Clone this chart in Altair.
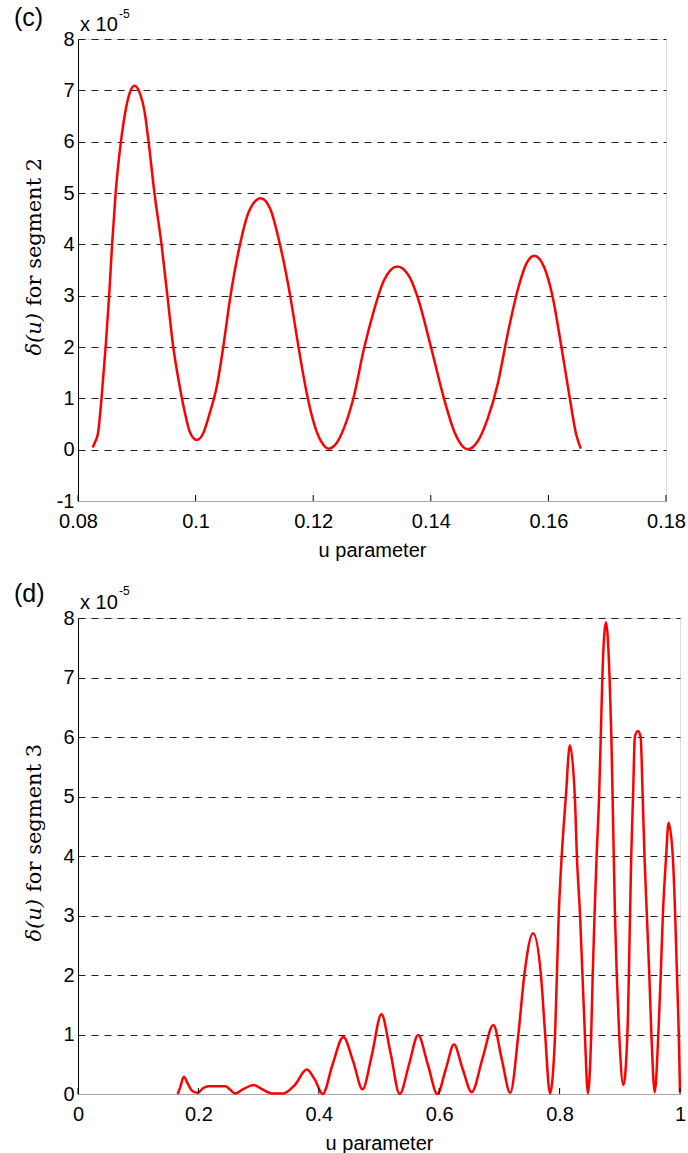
import altair as alt
import pandas as pd

# ---------------- data (values in units of 1e-5) ----------------
u_seg2 = [0.0825, 0.0829, 0.0834, 0.0840, 0.0847, 0.0853, 0.0858, 0.0864, 0.0873, 0.0880,
          0.0888, 0.0896, 0.0905, 0.0913, 0.0920, 0.0930, 0.0942, 0.0952, 0.0962, 0.0973,
          0.0982, 0.0990, 0.1002, 0.1013, 0.1024, 0.1036, 0.1047, 0.1059, 0.1075, 0.1090,
          0.1111, 0.1127, 0.1144, 0.1161, 0.1175, 0.1189, 0.1203, 0.1214, 0.1226, 0.1241,
          0.1252, 0.1269, 0.1286, 0.1303, 0.1320, 0.1343, 0.1363, 0.1377, 0.1400, 0.1423,
          0.1440, 0.1463, 0.1479, 0.1496, 0.1514, 0.1531, 0.1548, 0.1562, 0.1576, 0.1593,
          0.1607, 0.1622, 0.1636, 0.1647, 0.1655]
d_seg2 = [0.04, 0.15, 0.32, 1.00, 2.00, 3.00, 4.00, 5.00, 6.00, 6.55,
          6.95, 7.09, 6.95, 6.60, 6.00, 5.00, 4.00, 3.00, 2.00, 1.23,
          0.71, 0.35, 0.19, 0.32, 0.71, 1.23, 2.00, 2.97, 3.97, 4.62,
          4.90, 4.69, 3.97, 2.99, 2.00, 1.10, 0.45, 0.15, 0.02, 0.15,
          0.41, 1.03, 1.95, 2.70, 3.29, 3.57, 3.38, 2.99, 2.01, 0.97,
          0.35, 0.01, 0.15, 0.58, 1.29, 2.27, 3.12, 3.61, 3.78, 3.55,
          2.99, 2.01, 1.03, 0.31, 0.02]

u_seg3 = [0.1656, 0.1700, 0.1758, 0.1820, 0.1900, 0.1990, 0.2080, 0.2170, 0.2450, 0.2530,
          0.2610, 0.2760, 0.2917, 0.3060, 0.3220, 0.3410, 0.3600, 0.3800, 0.3930, 0.4065,
          0.4230, 0.4407, 0.4570, 0.4727, 0.4880, 0.5040, 0.5190, 0.5344, 0.5500, 0.5650,
          0.5810, 0.5970, 0.6110, 0.6245, 0.6390, 0.6540, 0.6720, 0.6900, 0.7040, 0.7180,
          0.7315, 0.7414, 0.7560, 0.7690, 0.7760, 0.7840, 0.7925, 0.7985, 0.8035, 0.8104,
          0.8170, 0.8253, 0.8287, 0.8340, 0.8380, 0.8420, 0.8470, 0.8525, 0.8550, 0.8580,
          0.8615, 0.8656, 0.8684, 0.8710, 0.8770, 0.8830, 0.8860, 0.8880, 0.8900, 0.8920,
          0.8950, 0.8990, 0.9060, 0.9126, 0.9170, 0.9190, 0.9220, 0.9250, 0.9300, 0.9346,
          0.9380, 0.9410, 0.9450, 0.9490, 0.9525, 0.9580, 0.9640, 0.9680, 0.9715, 0.9770,
          0.9810, 0.9880, 0.9920, 0.9950, 0.9980, 1.0000]
d_seg3 = [0.00, 0.12, 0.29, 0.18, 0.05, 0.02, 0.10, 0.13, 0.13, 0.07,
          0.01, 0.09, 0.15, 0.08, 0.01, 0.01, 0.15, 0.41, 0.25, 0.00,
          0.50, 0.96, 0.55, 0.08, 0.65, 1.34, 0.70, 0.00, 0.50, 0.99,
          0.50, 0.00, 0.42, 0.83, 0.42, 0.03, 0.60, 1.16, 0.58, 0.02,
          1.00, 2.00, 2.70, 2.00, 1.00, 0.01, 1.00, 3.00, 4.00, 5.00,
          5.86, 5.00, 4.00, 3.00, 2.00, 1.00, 0.01, 1.00, 2.00, 3.00,
          4.00, 5.00, 6.00, 7.00, 7.93, 7.00, 6.00, 5.00, 4.00, 3.00,
          2.00, 1.00, 0.15, 1.00, 3.00, 4.00, 5.00, 6.00, 6.10, 6.00,
          5.00, 4.00, 3.00, 2.00, 1.00, 0.03, 1.00, 2.00, 3.00, 4.00,
          4.56, 4.00, 3.00, 2.00, 1.00, 0.03]

xticks_c = [0.08, 0.1, 0.12, 0.14, 0.16, 0.18]
yticks_c = [-1, 0, 1, 2, 3, 4, 5, 6, 7, 8]
xticks_d = [0, 0.2, 0.4, 0.6, 0.8, 1]
yticks_d = [0, 1, 2, 3, 4, 5, 6, 7, 8]

SANS = "Liberation Sans"
SERIF = "DejaVu Serif"


def panel(u, d, xdom, xticks, ydom, yticks, W, H, letter, seg, lab_y, exp_y, sup_y):
    df = pd.DataFrame({"u": u, "d": d})
    xs = alt.Scale(domain=xdom, nice=False, zero=False)
    ys = alt.Scale(domain=ydom, nice=False, zero=False)
    xaxis = alt.Axis(values=xticks, labelExpr="'' + datum.value", title="u parameter",
                     grid=False, ticks=False, tickSize=0, domainColor="#a8a8a8", domainWidth=1,
                     labelFont=SANS, labelFontSize=20, labelColor="black", labelPadding=10,
                     labelFlush=False, titleFont=SANS, titleFontSize=20, titleFontWeight="normal",
                     titleColor="black", titlePadding=9)
    yaxis = alt.Axis(values=yticks, labelExpr="'' + datum.value", title=None,
                     grid=True, gridDash=[7, 6], gridColor="#222222", gridWidth=1,
                     ticks=False, tickSize=0, domainColor="black", domainWidth=1,
                     labelFont=SANS, labelFontSize=20, labelColor="black", labelPadding=4,
                     labelFlush=False)
    line = alt.Chart(df).mark_line(color="#ff0000", strokeWidth=2.5, interpolate="monotone",
                                   clip=False).encode(
        x=alt.X("u:Q", scale=xs, axis=xaxis, title="u parameter"),
        y=alt.Y("d:Q", scale=ys, axis=yaxis, title=None),
    )
    tdf = pd.DataFrame({"u": xticks})
    tickmarks = alt.Chart(tdf).mark_rule(color="black", strokeWidth=1).encode(
        x=alt.X("u:Q", scale=xs, axis=xaxis, title="u parameter"),
        y=alt.value(H), y2=alt.value(H - 6),
    )
    one = pd.DataFrame({"a": [0]})
    letter_t = alt.Chart(one).mark_text(text=letter, font=SANS, fontSize=25, align="left",
                                        baseline="middle", color="black").encode(
        x=alt.value(-64), y=alt.value(lab_y))
    exp_t = alt.Chart(one).mark_text(text="x 10", font=SANS, fontSize=20, align="left",
                                     baseline="alphabetic", color="black").encode(
        x=alt.value(2), y=alt.value(exp_y))
    sup_t = alt.Chart(one).mark_text(text="-5", font=SANS, fontSize=12, align="left",
                                     baseline="alphabetic", color="black").encode(
        x=alt.value(41), y=alt.value(sup_y))
    join = H / 2 + 43
    ylab1 = alt.Chart(one).mark_text(text="\u03b4(u)", font=SERIF, fontSize=21, fontStyle="italic",
                                     angle=270, align="right", baseline="alphabetic",
                                     color="black").encode(x=alt.value(-37), y=alt.value(join))
    ylab2 = alt.Chart(one).mark_text(text="for segment " + seg, font=SERIF, fontSize=21,
                                     angle=270, align="left", baseline="alphabetic",
                                     color="black").encode(x=alt.value(-37), y=alt.value(join - 7))
    return alt.layer(line, tickmarks, letter_t, exp_t, sup_t, ylab1, ylab2).properties(
        width=W, height=H)


top = panel(u_seg2, d_seg2, [0.08, 0.18], xticks_c, [-1, 8], yticks_c, 588, 462,
            "(c)", "2", -21, -8, -21)
bottom = panel(u_seg3, d_seg3, [0, 1], xticks_d, [0, 8], yticks_d, 602, 476,
               "(d)", "3", -24, -9, -23)

chart = alt.vconcat(top, bottom, spacing=20).properties(
    padding={"left": 13, "top": 5, "right": 0, "bottom": 0}
).configure_view(stroke=None).configure(background="white")

chart.save("out.html", embed_options={"renderer": "svg", "actions": False})
